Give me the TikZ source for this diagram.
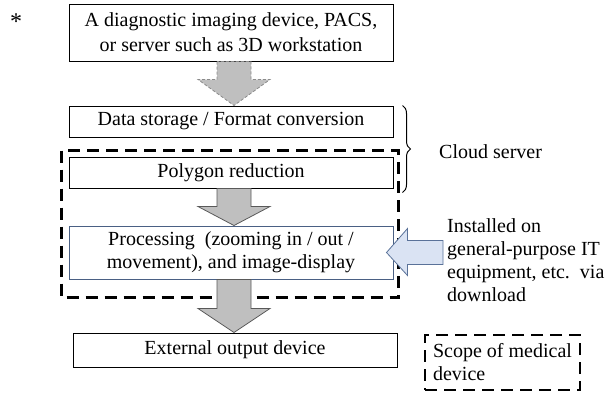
\documentclass[tikz,border=0pt]{standalone}
\usepackage{fontspec}
\setmainfont{Liberation Serif}
\newfontfamily\figfont{Liberation Serif}
\usetikzlibrary{calc,decorations.pathreplacing}

\definecolor{arrowgray}{HTML}{BFBFBF}
\definecolor{arrowedge}{HTML}{595959}
\definecolor{procblue}{HTML}{4A6084}
\definecolor{dlfill}{HTML}{DAE3F3}
\definecolor{dledge}{HTML}{5A7299}

\tikzset{
  box/.style={draw, rectangle, line width=1pt, minimum width=324pt, inner sep=2pt, align=center, font=\figfont\fontsize{20}{23}\selectfont},
  plaintext/.style={font=\figfont\fontsize{20}{23}\selectfont, inner sep=0pt},
  scopeline/.style={draw, line width=2.6pt, dash pattern=on 12pt off 7pt},
  fat/.style={fill=arrowgray, draw=arrowedge, line width=0.8pt, line join=miter},
  dlarrow/.style={fill=dlfill, draw=dledge, line width=0.8pt, line join=miter},
}

% block arrow pointing down: [style]{from}{to}{head length}
\newcommand{\blockdown}[4][]{%
  \draw[fat, #1] ($(axis|-#2.south)+(-17,0)$) -- ($(axis|-#3.north)+(-17,-#4)$)
    -- ($(axis|-#3.north)+(-36,-#4)$) -- (axis|-#3.north)
    -- ($(axis|-#3.north)+(36,-#4)$) -- ($(axis|-#3.north)+(17,-#4)$)
    -- ($(axis|-#2.south)+(17,0)$) -- cycle;}

\begin{document}
\begin{tikzpicture}[x=1pt, y=-1pt]
    \useasboundingbox (0,0) rectangle (606,394);
    \coordinate (axis) at (234,0);

    \node[plaintext, font=\figfont\fontsize{24}{24}\selectfont] (star) at (16,22) {*};
    \node[box, minimum height=57pt, font=\figfont\fontsize{20}{25}\selectfont] (source) at (231,32.5) {A diagnostic imaging device, PACS,\\or server such as 3D workstation};
    \node[box, minimum height=31pt] (storage) at (231,121.5) {Data storage / Format conversion};
    \node[box, minimum height=31pt] (polygon) at (231,172.5) {Polygon reduction};
    \node[box, minimum height=53pt, draw=procblue] (proc) at (231,252.5) {Processing\ \ (zooming in / out /\\movement), and image-display};
    \node[box, minimum height=34pt] (output) at (235,350) {External output device};

    \node[plaintext, anchor=west] (cloud) at (439,152) {Cloud server};
    \node[plaintext, anchor=west, align=left] (install) at (447,260) {Installed on\\general-purpose IT\\equipment, etc.\ \ via\\download};
    \node[scopeline, plaintext, align=left, minimum width=155pt, minimum height=55pt] (legend) at (502.5,362.5) {Scope of medical\\device};

    % scope of medical device
    \draw[scopeline] ($(polygon.north west)+(-7,-6)$) rectangle ($(proc.south east)+(5,18)$);

    % cloud server brace
    \draw[line width=1pt, decorate, decoration={brace, amplitude=8pt}] ($(storage.north east)+(9,0)$) -- ($(polygon.south east)+(9,4)$);

    \blockdown[draw=arrowedge!70, dash pattern=on 3pt off 2pt]{source}{storage}{26}
    \blockdown{polygon}{proc}{19}
    \blockdown{proc}{output}{24}

    \draw[dlarrow] ($(proc.east)+(-7,0)$) -- ++(21,-24) -- ++(0,12) -- ($(install.west|-proc.east)+(-4,-12)$)
      -- ++(0,24) -- ($(proc.east)+(14,12)$) -- ++(0,11) -- cycle;
\end{tikzpicture}
\end{document}
